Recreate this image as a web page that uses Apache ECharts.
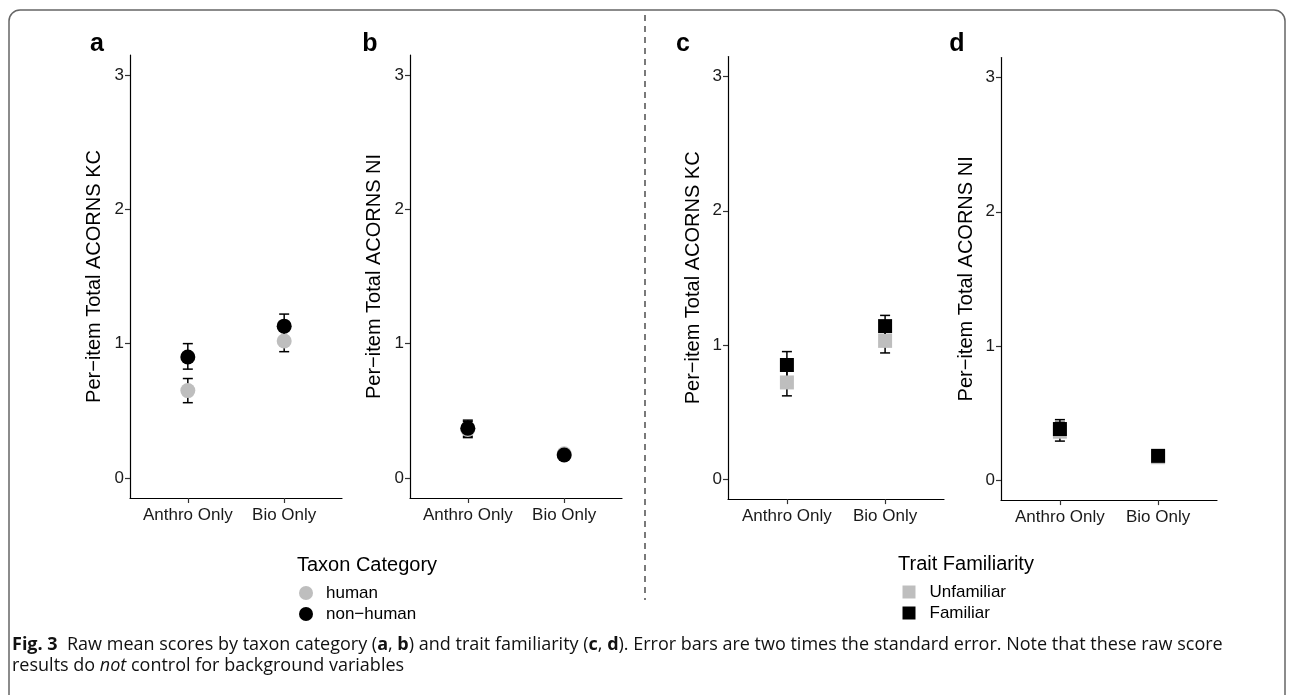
<!DOCTYPE html>
<html>
<head>
<meta charset="utf-8">
<script src="https://cdn.jsdelivr.net/npm/echarts@6/dist/echarts.min.js"></script>
<style>html,body{margin:0;padding:0;background:#fff;}#c{width:1293px;height:695px;}</style>
</head>
<body>
<div id="c"></div>
<script>
// ---- data ----
const categories = ['Anthro Only', 'Bio Only'];
const yTicks = [0, 1, 2, 3];
const taxonNames = ['human', 'non\u2212human'];
const familiarityNames = ['Unfamiliar', 'Familiar'];

// panel a: KC by taxon
const aHumanMean = [0.65, 1.02];
const aHumanLow  = [0.56, 0.94];
const aHumanHigh = [0.74, 1.10];
const aNonMean   = [0.90, 1.13];
const aNonLow    = [0.81, 1.04];
const aNonHigh   = [1.00, 1.22];
// panel b: NI by taxon
const bHumanMean = [0.36, 0.18];
const bHumanLow  = [0.30, 0.15];
const bHumanHigh = [0.42, 0.21];
const bNonMean   = [0.37, 0.17];
const bNonLow    = [0.31, 0.14];
const bNonHigh   = [0.43, 0.20];
// panel c: KC by familiarity
const cUnfMean  = [0.72, 1.03];
const cUnfLow   = [0.62, 0.94];
const cUnfHigh  = [0.82, 1.12];
const cFamMean  = [0.85, 1.14];
const cFamLow   = [0.76, 1.05];
const cFamHigh  = [0.95, 1.22];
// panel d: NI by familiarity
const dUnfMean  = [0.36, 0.17];
const dUnfLow   = [0.29, 0.14];
const dUnfHigh  = [0.43, 0.20];
const dFamMean  = [0.38, 0.18];
const dFamLow   = [0.32, 0.15];
const dFamHigh  = [0.45, 0.21];

const yTitles = ['Per\u2212item Total ACORNS KC', 'Per\u2212item Total ACORNS NI', 'Per\u2212item Total ACORNS KC', 'Per\u2212item Total ACORNS NI'];
const panelLetters = ['a', 'b', 'c', 'd'];

const GREY = '#bebebe', BLACK = '#000000';
const FONT = 'Liberation Sans';

const chart = echarts.init(document.getElementById('c'), null, {renderer: 'canvas'});

const grids = [
  {left: 130, top: 55, width: 212, height: 443},
  {left: 410, top: 55, width: 212, height: 443},
  {left: 728, top: 56.6, width: 216, height: 442.5},
  {left: 1001, top: 57.6, width: 216, height: 442.5}
];
const nameGaps = [26, 26, 25, 25];

const xAxes = grids.map((g, i) => ({
  type: 'value', gridIndex: i, min: 0.4, max: 2.6,
  axisLine: {show: true, onZero: false, lineStyle: {color: '#000', width: 1.2}},
  axisTick: {show: true, length: 5, lineStyle: {color: '#333', width: 1.2}, customValues: [1, 2]},
  axisLabel: {customValues: [1, 2], formatter: v => categories[Math.round(v) - 1] || '',
    color: '#1a1a1a', fontSize: 17, fontFamily: FONT, margin: 9},
  splitLine: {show: false}
}));

const yAxes = grids.map((g, i) => ({
  type: 'value', gridIndex: i, min: -0.15, max: 3.15,
  name: yTitles[i], nameLocation: 'middle', nameGap: nameGaps[i], nameRotate: 90,
  nameTextStyle: {fontSize: 20, fontFamily: FONT, color: '#000'},
  axisLine: {show: true, onZero: false, lineStyle: {color: '#000', width: 1.2}},
  axisTick: {show: true, length: 5, lineStyle: {color: '#333', width: 1.2}, customValues: yTicks},
  axisLabel: {customValues: yTicks, color: '#1a1a1a', fontSize: 17, fontFamily: FONT, margin: 6},
  splitLine: {show: false}
}));

function errSeries(idx, low, high) {
  return {
    type: 'custom', xAxisIndex: idx, yAxisIndex: idx, silent: true, z: 1,
    data: categories.map((c, k) => [k + 1, low[k], high[k]]),
    renderItem: function (params, api) {
      const x = api.value(0);
      const p1 = api.coord([x, api.value(1)]);
      const p2 = api.coord([x, api.value(2)]);
      const hw = 5;
      const st = {stroke: '#000', lineWidth: 1.5};
      return {type: 'group', children: [
        {type: 'line', shape: {x1: p1[0], y1: p1[1], x2: p2[0], y2: p2[1]}, style: st},
        {type: 'line', shape: {x1: p1[0] - hw, y1: p1[1], x2: p1[0] + hw, y2: p1[1]}, style: st},
        {type: 'line', shape: {x1: p2[0] - hw, y1: p2[1], x2: p2[0] + hw, y2: p2[1]}, style: st}
      ]};
    }
  };
}
function pointSeries(idx, name, mean, color, symbol, size) {
  return {
    type: 'scatter', name: name, xAxisIndex: idx, yAxisIndex: idx, z: 3,
    symbol: symbol, symbolSize: size,
    itemStyle: {color: color, opacity: 1},
    data: categories.map((c, k) => [k + 1, mean[k]])
  };
}

const series = [
  errSeries(0, aHumanLow, aHumanHigh), errSeries(0, aNonLow, aNonHigh),
  pointSeries(0, taxonNames[0], aHumanMean, GREY, 'circle', 15),
  pointSeries(0, taxonNames[1], aNonMean, BLACK, 'circle', 15),
  errSeries(1, bHumanLow, bHumanHigh), errSeries(1, bNonLow, bNonHigh),
  pointSeries(1, taxonNames[0], bHumanMean, GREY, 'circle', 15),
  pointSeries(1, taxonNames[1], bNonMean, BLACK, 'circle', 15),
  errSeries(2, cUnfLow, cUnfHigh), errSeries(2, cFamLow, cFamHigh),
  pointSeries(2, familiarityNames[0], cUnfMean, GREY, 'rect', 14),
  pointSeries(2, familiarityNames[1], cFamMean, BLACK, 'rect', 14),
  errSeries(3, dUnfLow, dUnfHigh), errSeries(3, dFamLow, dFamHigh),
  pointSeries(3, familiarityNames[0], dUnfMean, GREY, 'rect', 14),
  pointSeries(3, familiarityNames[1], dFamMean, BLACK, 'rect', 14)
];

const letterX = [97, 370, 683, 957];
const graphics = [
  {type: 'rect', shape: {x: 9, y: 10, width: 1276, height: 720, r: [11, 11, 0, 0]},
   style: {fill: 'none', stroke: '#666', lineWidth: 1.5}, silent: true},
  {type: 'line', shape: {x1: 645, y1: 15, x2: 645, y2: 600},
   style: {stroke: '#222', lineWidth: 1.2, lineDash: [6, 5]}, silent: true},
  {type: 'text', x: 297, y: 565, style: {text: 'Taxon Category', font: '20px ' + FONT, fill: '#000', verticalAlign: 'middle'}},
  {type: 'text', x: 898, y: 564, style: {text: 'Trait Familiarity', font: '20px ' + FONT, fill: '#000', verticalAlign: 'middle'}},
  {type: 'text', x: 12, y: 634, style: {
    text: '{b|Fig. 3}  Raw mean scores by taxon category ({b|a}, {b|b}) and trait familiarity ({b|c}, {b|d}). Error bars are two times the standard error. Note that these raw score\nresults do {i|not} control for background variables',
    font: '18px "Open Sans"', fill: '#111', lineHeight: 21, verticalAlign: 'top',
    rich: {b: {fontWeight: 'bold', fontSize: 18, fontFamily: 'Open Sans', fill: '#111', lineHeight: 21},
           i: {fontStyle: 'italic', fontSize: 18, fontFamily: 'Open Sans', fill: '#111', lineHeight: 21}}
  }, scaleX: 1.0}
];
panelLetters.forEach((L, i) => {
  graphics.push({type: 'text', x: letterX[i], y: 44, style: {text: L, font: 'bold 25px ' + FONT, fill: '#000', align: 'center', verticalAlign: 'middle'}});
});

chart.setOption({
  backgroundColor: '#fff',
  animation: false,
  grid: grids,
  xAxis: xAxes,
  yAxis: yAxes,
  legend: [
    {data: taxonNames.map(n => ({name: n, icon: 'circle'})), orient: 'vertical', left: 299, top: 583,
     padding: 0, itemWidth: 14, itemHeight: 14, itemGap: 1, selectedMode: false,
     textStyle: {fontSize: 17, fontFamily: FONT, color: '#000', lineHeight: 20, padding: [0, 0, 0, 8]}},
    {data: familiarityNames.map(n => ({name: n, icon: 'rect'})), orient: 'vertical', left: 902.5, top: 582,
     padding: 0, itemWidth: 13, itemHeight: 13, itemGap: 1, selectedMode: false,
     textStyle: {fontSize: 17, fontFamily: FONT, color: '#000', lineHeight: 20, padding: [0, 0, 0, 9]}}
  ],
  graphic: graphics,
  series: series
});
</script>
</body>
</html>
